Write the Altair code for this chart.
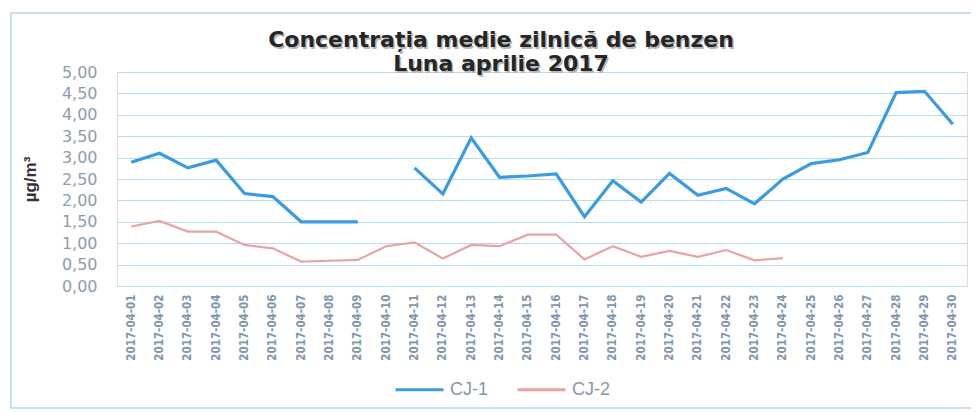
import altair as alt
import pandas as pd

days = ["2017-04-01", "2017-04-02", "2017-04-03", "2017-04-04", "2017-04-05",
        "2017-04-06", "2017-04-07", "2017-04-08", "2017-04-09", "2017-04-10",
        "2017-04-11", "2017-04-12", "2017-04-13", "2017-04-14", "2017-04-15",
        "2017-04-16", "2017-04-17", "2017-04-18", "2017-04-19", "2017-04-20",
        "2017-04-21", "2017-04-22", "2017-04-23", "2017-04-24", "2017-04-25",
        "2017-04-26", "2017-04-27", "2017-04-28", "2017-04-29", "2017-04-30"]

cj1 = [2.89, 3.10, 2.76, 2.94, 2.16, 2.09, 1.50, 1.50, 1.50, None,
       2.76, 2.15, 3.46, 2.54, 2.57, 2.62, 1.62, 2.46, 1.96, 2.63,
       2.12, 2.28, 1.92, 2.50, 2.86, 2.95, 3.12, 4.52, 4.55, 3.78]

cj2 = [1.39, 1.52, 1.27, 1.27, 0.96, 0.88, 0.57, 0.59, 0.61, 0.93,
       1.02, 0.64, 0.96, 0.93, 1.20, 1.20, 0.62, 0.93, 0.68, 0.82,
       0.68, 0.84, 0.60, 0.65, None, None, None, None, None, None]

series_names = ["CJ-1", "CJ-2"]
series_colors = ["#3a9be0", "#e8a4a4"]
series_widths = [3.2, 2.2]
y_ticks = [0, 0.5, 1.0, 1.5, 2.0, 2.5, 3.0, 3.5, 4.0, 4.5, 5.0]
title_lines = ["Concentrația medie zilnică de benzen", "Luna aprilie 2017"]

rows = []
for name, vals in zip(series_names, [cj1, cj2]):
    seg = 0
    for d, v in zip(days, vals):
        if v is None:
            seg += 1
            continue
        rows.append({"date": d, "value": v, "series": name, "seg": f"{name}-{seg}"})
df = pd.DataFrame(rows)

one = pd.DataFrame({"a": [0]})

frame = alt.Chart(one).mark_rect(
    fill=None, stroke="#b9d4ee", strokeWidth=1.5
).encode(
    x=alt.value(-106), x2=alt.value(858), y=alt.value(-59), y2=alt.value(336)
)


def title_text(txt, yy, color, dx=0, dy=0):
    return alt.Chart(one).mark_text(
        text=txt, font="DejaVu Sans", fontSize=22, fontWeight="bold",
        color=color, align="center", baseline="middle", dx=dx, dy=dy
    ).encode(x=alt.value(384), y=alt.value(yy))


titles = [
    title_text(title_lines[0], -32, "#b8b8b8", 1.5, 1.5),
    title_text(title_lines[1], -8, "#b8b8b8", 1.5, 1.5),
    title_text(title_lines[0], -32, "#262626"),
    title_text(title_lines[1], -8, "#262626"),
]

x_enc = alt.X("date:O", sort=days, scale=alt.Scale(domain=days),
              axis=alt.Axis(title=None, labelAngle=-90, ticks=False, domain=False,
                            grid=False, labelPadding=8, labelFontSize=11.5,
                            labelFont="DejaVu Sans Condensed", labelFontWeight="bold",
                            labelColor="#7f97ad"))
y_enc = alt.Y("value:Q", scale=alt.Scale(domain=[0, 5]),
              axis=alt.Axis(values=y_ticks, title="µg/m³", ticks=False, domain=False,
                            grid=True, gridColor="#b7dbf0", gridWidth=1,
                            labelExpr="replace(format(datum.value, '.2f'), '.', ',')",
                            labelPadding=20, labelFontSize=16, labelColor="#8e9cab",
                            labelFont="DejaVu Sans",
                            titleFontSize=17, titleFont="Liberation Sans",
                            titleFontWeight="bold", titleColor="#333333",
                            titleAngle=-90, titleX=-87, titleY=107,
                            titleAlign="center", titleBaseline="middle"))
c_enc = alt.Color("series:N", scale=alt.Scale(domain=series_names, range=series_colors),
                  legend=alt.Legend(title=None, orient="none", direction="horizontal",
                                    legendX=277, legendY=292,
                                    symbolType="stroke", symbolSize=2300,
                                    symbolStrokeWidth=3, labelFontSize=18,
                                    labelFont="Liberation Sans",
                                    labelColor="#8797aa", labelOffset=5,
                                    columnPadding=22))

line_layers = []
for name, w in zip(series_names, series_widths):
    line_layers.append(
        alt.Chart(df).transform_filter(alt.datum.series == name)
        .mark_line(strokeWidth=w)
        .encode(x=x_enc, y=y_enc, color=c_enc, detail="seg:N")
    )

chart = alt.layer(frame, *titles, *line_layers).properties(
    width=850, height=214,
    autosize=alt.AutoSizeParams(type="none"),
    padding={"left": 109, "top": 64, "right": 4, "bottom": 124},
).configure_view(stroke="#a9c9ea", strokeWidth=1.2).configure(background="white")

chart.save("out.html", embed_options={"renderer": "svg", "actions": False})
